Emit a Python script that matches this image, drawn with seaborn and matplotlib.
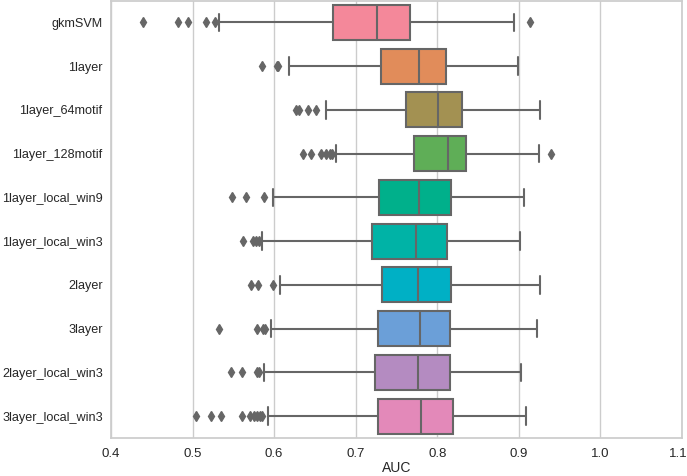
import numpy as np
import pandas as pd
import matplotlib
matplotlib.use("Agg")
import matplotlib.pyplot as plt
import matplotlib.transforms as mtransforms
import seaborn as sns

# values (AUC per model)
models = ["gkmSVM", "1layer", "1layer_64motif", "1layer_128motif", "1layer_local_win9",
          "1layer_local_win3", "2layer", "3layer", "2layer_local_win3", "3layer_local_win3"]
q1 = [0.672, 0.7305, 0.762, 0.771, 0.7288, 0.7202, 0.732, 0.7276, 0.724, 0.7276]
med = [0.7256, 0.778, 0.8013, 0.8133, 0.778, 0.774, 0.7768, 0.7793, 0.7764, 0.7805]
q3 = [0.766, 0.811, 0.8305, 0.8358, 0.8166, 0.8117, 0.817, 0.8161, 0.816, 0.8194]
whisk_lo = [0.532, 0.6186, 0.663, 0.6755, 0.598, 0.5855, 0.6066, 0.5964, 0.5875, 0.5919]
whisk_hi = [0.8937, 0.8994, 0.9265, 0.9252, 0.906, 0.9015, 0.9256, 0.922, 0.9027, 0.9084]
out_lo = [[0.439, 0.4816, 0.4939, 0.5169, 0.527],
          [0.5845, 0.6035, 0.6045],
          [0.6265, 0.630, 0.642, 0.651],
          [0.6358, 0.6448, 0.6575, 0.6636, 0.669, 0.6715],
          [0.5484, 0.566, 0.5874],
          [0.5615, 0.5738, 0.578, 0.581],
          [0.5722, 0.58, 0.5984],
          [0.5328, 0.5792, 0.5861, 0.5886],
          [0.5476, 0.5611, 0.5792, 0.582],
          [0.5037, 0.523, 0.5353, 0.56, 0.570, 0.5752, 0.5792, 0.5824, 0.5849]]
out_hi = [[0.9133], [], [], [0.940], [], [], [], [], [], []]

colors = ["#f4889a", "#e18c5a", "#a39152", "#5fae57", "#00b08b",
          "#00b3a6", "#00b0c5", "#6b9fd8", "#b48bc1", "#e389b9"]
gray = "#666666"

# rebuild a sample per model whose quartiles/whiskers give the read box
rows = []
m = 40
for i, name in enumerate(models):
    vals = out_lo[i] + [whisk_lo[i]] + [q1[i]] * m + [med[i]] * m + [q3[i]] * m + [whisk_hi[i]] + out_hi[i]
    for v in vals:
        rows.append((name, v))
df = pd.DataFrame(rows, columns=["model", "AUC"])

sns.set_theme(style="whitegrid")
plt.rcParams["font.family"] = ["Liberation Sans", "DejaVu Sans"]

fig = plt.figure(figsize=(6.87, 4.76), dpi=100)
ax = fig.add_axes([0.1616, 0.0798, 0.8311, 0.919])
sns.boxplot(data=df, x="AUC", y="model", hue="model", order=models, hue_order=models,
            palette=colors, legend=False, saturation=1, linewidth=1.5, linecolor=gray,
            flierprops=dict(marker="d", markerfacecolor=gray, markeredgecolor=gray, markersize=5),
            ax=ax)
ax.set_xlim(0.4, 1.1)
ax.set_xticks([0.4, 0.5, 0.6, 0.7, 0.8, 0.9, 1.0, 1.1])
ax.set_xticklabels(["0.4", "0.5", "0.6", "0.7", "0.8", "0.9", "1.0", "1.1"])
ax.yaxis.grid(False)
ax.set_ylabel("")
ax.set_xlabel("AUC", fontsize=10, labelpad=1)
ax.tick_params(axis="y", labelsize=9.1, length=0, pad=6)
ax.tick_params(axis="x", labelsize=9.5, length=0, pad=7)

# last tick label sits at the figure edge, nudge it in a little
last = ax.get_xticklabels()[-1]
last.set_transform(last.get_transform() + mtransforms.ScaledTranslation(-3 / 72, 0, fig.dpi_scale_trans))

fig.savefig("out.png", dpi=100)
